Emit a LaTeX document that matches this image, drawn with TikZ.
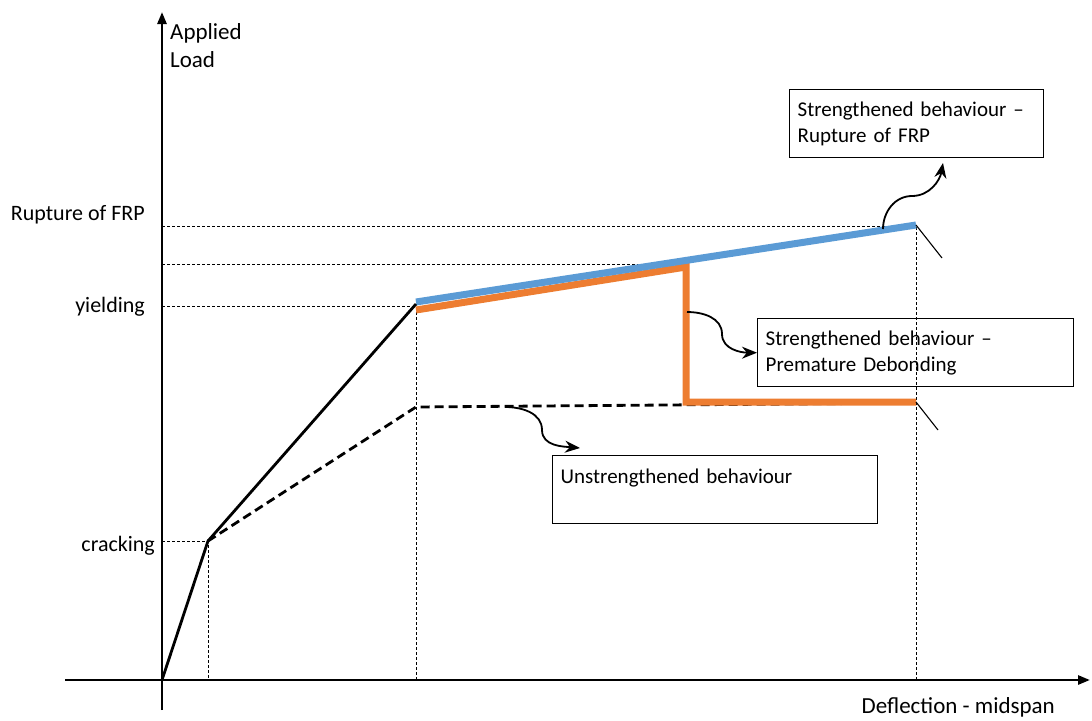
\documentclass[tikz,border=0pt]{standalone}
\usepackage{fontspec}
\setmainfont{Carlito}
\usetikzlibrary{arrows.meta}
\definecolor{frpblue}{RGB}{91,155,213}
\definecolor{frporange}{RGB}{237,125,49}
\tikzstyle{axis} = [
    line width = 2.6pt,
    -{Triangle[length = 12pt, width = 9pt]}
]
\tikzstyle{guide} = [
    line width = 0.8pt,
    dash pattern = on 3pt off 2pt
]
\tikzstyle{response} = [line width = 2.8pt]
\tikzstyle{unstrengthened} = [
    line width = 2.8pt,
    dash pattern = on 9pt off 5pt
]
\tikzstyle{strengthened} = [line width = 7pt]
\tikzstyle{callout} = [
    rectangle,
    draw = black,
    line width = 1.4pt,
    anchor = north west,
    align = left,
    inner xsep = 8pt,
    minimum height = 68pt
]
\tikzstyle{arrow} = [line width = 1.8pt, -{Stealth[length = 15pt, width = 12pt]}]
\tikzstyle{ticklabel} = [anchor = base east, inner sep = 0pt, font = \fontsize{22}{26}\selectfont]
\tikzstyle{axislabel} = [inner sep = 0pt, font = \fontsize{23}{28}\selectfont]

\begin{document}
\begin{tikzpicture}[x = 1pt, y = -1pt, font = \fontsize{21}{26}\selectfont]
    \useasboundingbox (0,0) rectangle (1092,720);

    \coordinate (origin) at (162,680);
    \coordinate (cracking) at (208,541);
    \coordinate (yielding) at (416,304);
    \coordinate (rupture) at (916,225);
    \coordinate (debond top) at (686,267);
    \coordinate (debond bottom) at (686,402);
    \coordinate (debond end) at (916,402);
    \coordinate (plateau start) at (416,407);
    \coordinate (plateau end) at (916,403);

    % axes
    \draw [axis] (65,680) -- (1090,680);
    \draw [axis] (162,710) -- (162,12);

    \node (load label) [axislabel, anchor = north west, align = left]
        at (170,23) {Applied\\Load};
    \node (deflection label) [axislabel, anchor = base east]
        at (1055,713) {Deflection - midspan};

    % guide lines
    \draw [guide] (162,226) -- (916,226) -- (916,680);
    \draw [guide] (162,264) -- (686,264);
    \draw [guide] (162,306) -- (416,306) -- (416,680);
    \draw [guide] (162,541) -- (208,541) -- (208,680);

    \node (rupture label) [ticklabel] at (145,220) {Rupture of FRP};
    \node (yielding label) [ticklabel] at (145,312) {yielding};
    \node (cracking label) [ticklabel] at (155,551) {cracking};

    % unstrengthened behaviour
    \draw [unstrengthened] (cracking) -- (plateau start) -- (plateau end);

    % strengthened behaviour
    \draw [strengthened, frporange]
        (416,310) -- (debond top) -- (debond bottom) -- (debond end);
    \draw [strengthened, frpblue] (416,302) -- (rupture);
    \draw [response] (origin) -- (cracking) -- (yielding);

    \draw [line width = 1.1pt] (rupture) -- (942,258);
    \draw [line width = 1.1pt] (debond end) -- (938,430);

    % callouts
    \node
        (rupture box)
        [callout, text width = 238pt]
        at (789,89)
        {Strengthened behaviour –\\Rupture of FRP};

    \node
        (debond box)
        [callout, text width = 300pt]
        at (757,318)
        {Strengthened behaviour –\\Premature Debonding};

    \node
        (plain box)
        [callout, text width = 309pt]
        at (552,455)
        {Unstrengthened behaviour\\\mbox{}};

    \coordinate (rupture from) at (883,229);
    \coordinate (rupture to) at (943,163);
    \coordinate (debond from) at (687,312);
    \coordinate (plain from) at (505,407);
    \coordinate (plain to) at (580,448);

    \draw [arrow]
        (rupture from) to [out = 90, in = 180] (912,196)
        to [out = 0, in = -100] (rupture to);

    \draw [arrow]
        (debond from) to [out = 0, in = 90] (722,334)
        to [out = -90, in = 180] (debond box.west);

    \draw [arrow]
        (plain from) to [out = 0, in = 90] (542,430)
        to [out = -90, in = 175] (plain to);
\end{tikzpicture}
\end{document}
